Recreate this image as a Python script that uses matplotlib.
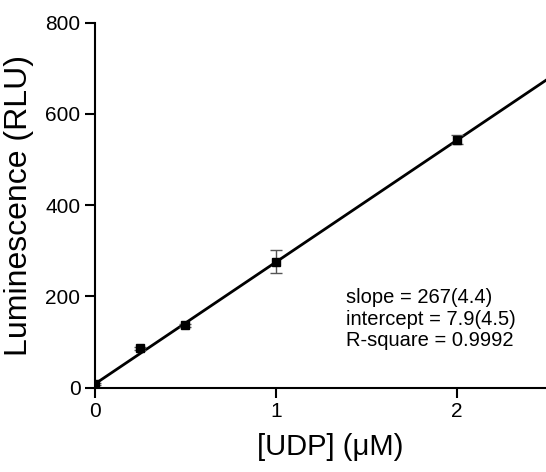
import numpy as np
import matplotlib.pyplot as plt

plt.rcParams['font.family'] = ['Liberation Sans', 'DejaVu Sans']

# UDP standard curve
udp = [0, 0.25, 0.5, 1, 2]
lum = [8, 86, 136, 276, 543]
err = [2, 3, 3, 26, 10]

slope = 267
intercept = 7.9
fit_x = [0, 2.5]

fig = plt.figure(figsize=(5.46, 4.72), dpi=100)
ax = fig.add_axes([0.174, 0.179, 0.828, 0.773])

fx = np.array(fit_x)
ax.plot(fx, slope * fx + intercept, color='black', lw=2.0, zorder=2)
ax.errorbar(udp, lum, yerr=err, fmt='s', color='black', ms=6,
            ecolor='#555555', elinewidth=1, capsize=4, capthick=1, zorder=3)

ax.set_xlim(0, 2.5)
ax.set_ylim(0, 800)
ax.set_xticks([0, 1, 2])
ax.set_yticks([0, 200, 400, 600, 800])
ax.spines['top'].set_visible(False)
ax.spines['right'].set_visible(False)
for s in ['left', 'bottom']:
    ax.spines[s].set_linewidth(1.5)
ax.tick_params(direction='out', length=7, width=1.5, labelsize=15)

ax.set_xlabel('[UDP] (μM)', fontsize=21, labelpad=8)
ax.xaxis.set_label_coords(0.52, -0.125)
ax.set_ylabel('Luminescence (RLU)', fontsize=23, labelpad=8)

ax.text(0.556, 0.272, 'slope = 267(4.4)\nintercept = 7.9(4.5)\nR-square = 0.9992',
        transform=ax.transAxes, fontsize=14.5, va='top', ha='left', linespacing=1.15)

fig.savefig('out.png', dpi=100)
